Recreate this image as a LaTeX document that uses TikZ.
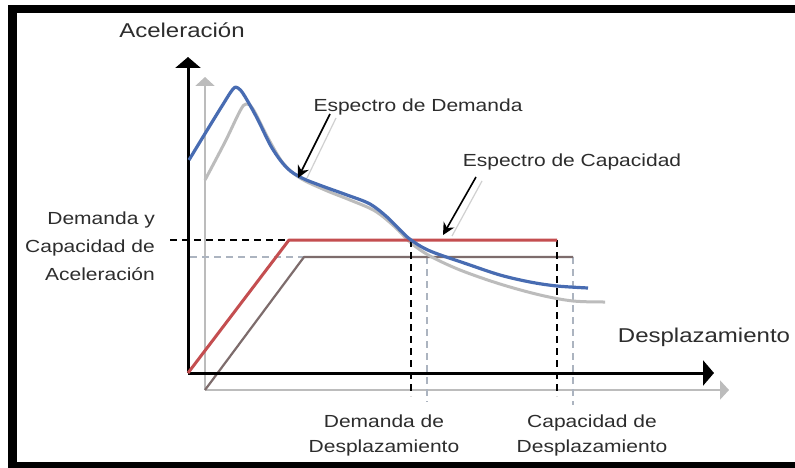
\documentclass[tikz,border=0pt]{standalone}
\usepackage{fontspec}
\setmainfont{Liberation Sans}[FakeStretch=1.2]
\usetikzlibrary{arrows.meta}
\definecolor{bluec}{RGB}{72,108,178}
\definecolor{greyc}{RGB}{188,188,188}
\definecolor{redc}{RGB}{196,78,80}
\definecolor{capgrey}{RGB}{125,108,108}
\definecolor{textc}{RGB}{45,45,45}
\definecolor{dashgrey}{RGB}{172,180,192}
\tikzset{
  lbl/.style={text=textc, inner sep=0pt, anchor=base, font=\fontsize{17.5}{20}\selectfont},
  biglbl/.style={lbl, font=\fontsize{20}{23}\selectfont},
  axisblack/.style={line width=3pt, -{Triangle[width=25pt,length=11pt]}},
  axisgrey/.style={line width=2.2pt, greyc, -{Triangle[width=19pt,length=9pt]}},
  dashblack/.style={line width=1.8pt, dash pattern=on 7pt off 5pt},
  dashgreyl/.style={line width=1.5pt, dashgrey, dash pattern=on 7pt off 5pt},
  pointer/.style={line width=1.6pt, -{Stealth[width=12pt,length=12pt]}},
  pshadow/.style={line width=1.2pt, greyc!70},
}
\begin{document}
\begin{tikzpicture}[x=1pt,y=-1pt]
\useasboundingbox (0,0) rectangle (795,468);
\fill[white] (0,0) rectangle (795,468);
% frame
\fill[black] (8,5) rectangle (795,13);
\fill[black] (8,5) rectangle (17,468);
\fill[black] (8,462) rectangle (795,468);

% named points
\coordinate (O) at (188,373);
\coordinate (Ytop) at (188,57);
\coordinate (Xend) at (714,373);
\coordinate (Og) at (205,390);
\coordinate (Ytopg) at (205,77);
\coordinate (Xendg) at (729,390);
\coordinate (Rk) at (289,240);
\coordinate (Re) at (557,240);
\coordinate (Gk) at (304,257);
\coordinate (Ge) at (573,257);
\coordinate (DL) at (170,240);
\coordinate (DLg) at (190,257);
\coordinate (Dd) at (411,240);
\coordinate (Ddb) at (411,396);
\coordinate (Ddb2) at (557,396);
\coordinate (Ddg) at (427,257);
\coordinate (Ddgb) at (427,402);
\coordinate (Dcg) at (573,257);
\coordinate (Dcgb) at (573,405);

% grey shadow axes and curves
\draw[axisgrey] (Og) -- (Ytopg);
\draw[axisgrey] (Og) -- (Xendg);
\draw[dashgreyl] (DLg) -- (Gk);
\draw[dashgreyl] (Ddg) -- (Ddgb);
\draw[dashgreyl] (Dcg) -- (Dcgb);
\draw[line width=2.2pt, capgrey, line join=round] (Og) -- (Gk) -- (Ge);
\draw[line width=3pt, greyc, line join=round] plot[smooth, tension=0.55] coordinates {
 (205,180) (225,142) (240,111) (246,104) (253,109) (268,138) (283,163) (300,178)
 (325,190) (350,200) (375,211) (395,227) (411,243) (430,256) (460,270) (500,284)
 (540,295) (573,301) (605,302)};

% black axes
\draw[axisblack] (O) -- (Ytop);
\draw[axisblack] (O) -- (Xend);

% dashed guides
\draw[dashblack] (DL) -- (Rk);
\draw[dashblack] (Dd) -- (Ddb);
\draw[dashblack] (Re) -- (Ddb2);

% capacity (red)
\draw[line width=3pt, redc, line join=round] (O) -- (Rk) -- (Re);

% demand (blue)
\draw[line width=3.2pt, bluec, line join=round] plot[smooth, tension=0.55] coordinates {
 (189,160) (206,132) (222,106) (233,89) (238,88) (244,95) (257,118) (272,148) (287,168)
 (302,178) (322,186) (347,195) (370,204) (387,217) (400,230) (411,240) (430,251)
 (467,264) (500,275) (530,282) (557,286) (588,288)};

% pointer arrows
\coordinate (A1s) at (330,114);
\coordinate (A1e) at (298,178);
\coordinate (A1ss) at (336,118);
\coordinate (A1se) at (307,178);
\coordinate (A2s) at (476,177);
\coordinate (A2e) at (443,235);
\coordinate (A2ss) at (482,181);
\coordinate (A2se) at (452,236);
\draw[pshadow] (A1ss) -- (A1se);
\draw[pshadow] (A2ss) -- (A2se);
\draw[pointer] (A1s) -- (A1e);
\draw[pointer] (A2s) -- (A2e);

% labels
\node[biglbl] (acel) at (182,38) {Aceleración};
\node[biglbl] (desp) at (704,342) {Desplazamiento};
\node[lbl] (espd) at (418,112) {Espectro de Demanda};
\node[lbl] (espc) at (572,167) {Espectro de Capacidad};
\node[lbl, anchor=base east] (dy1) at (155,224) {Demanda y};
\node[lbl, anchor=base east] (dy2) at (155,252) {Capacidad de};
\node[lbl, anchor=base east] (dy3) at (155,280) {Aceleración};
\node[lbl] (dd1) at (384,427) {Demanda de};
\node[lbl] (dd2) at (384,452) {Desplazamiento};
\node[lbl] (cd1) at (592,427) {Capacidad de};
\node[lbl] (cd2) at (592,452) {Desplazamiento};
\end{tikzpicture}
\end{document}
